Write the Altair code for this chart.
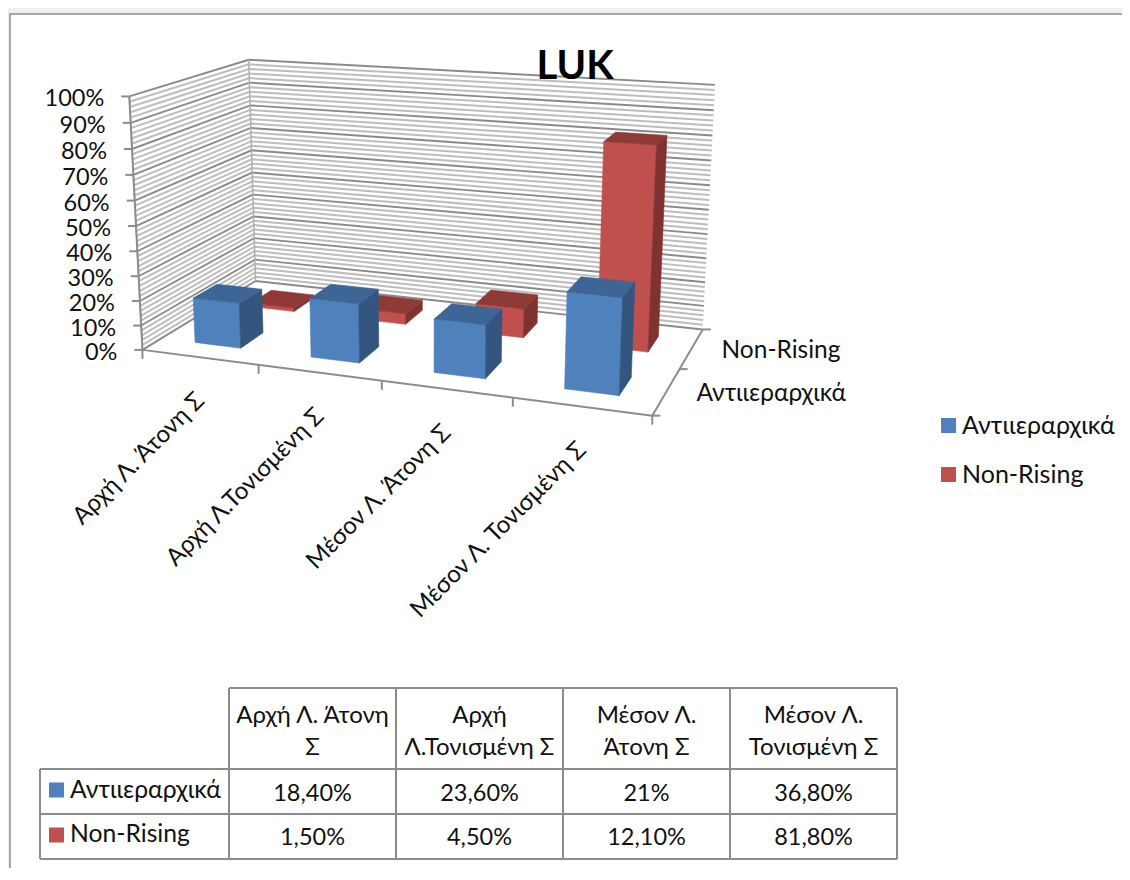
import altair as alt
import numpy as np
import pandas as pd

# ---- data ----
categories = ["Αρχή Λ. Άτονη Σ", "Αρχή Λ.Τονισμένη Σ", "Μέσον Λ. Άτονη Σ", "Μέσον Λ. Τονισμένη Σ"]
headers = [["Αρχή Λ. Άτονη", "Σ"], ["Αρχή", "Λ.Τονισμένη Σ"], ["Μέσον Λ.", "Άτονη Σ"], ["Μέσον Λ.", "Τονισμένη Σ"]]
series = ["Αντιιεραρχικά", "Non-Rising"]
values_anti = [18.4, 23.6, 21.0, 36.8]
values_nonrising = [1.5, 4.5, 12.1, 81.8]
series_values = [values_anti, values_nonrising]
y_ticks = list(range(0, 101, 10))
minor_ticks = [t for t in range(0, 101, 2) if t % 10]

# ---- style ----
FONT = "Lato, 'Noto Sans', sans-serif"
FS = 25
FS_CAT = 24.2
FS_NUM = 23.5
GREY = "#8c8c8c"
front = ["#4f81bd", "#c0504d"]
side = ["#33557f", "#7f322f"]
top = ["#3d6596", "#8f3a37"]

# ---- oblique box of the 3-D chart: fitted perspective camera ----
box = [((0, 0, 0), (143, 350)), ((1, 0, 0), (652, 416)), ((0, 1, 0), (255, 281)),
       ((1, 1, 0), (703, 329)), ((0, 0, 1), (129, 96)), ((0, 1, 1), (249, 60)), ((1, 1, 1), (715, 85))]
A, b = [], []
for (u, v, h), (sx, sy) in box:
    A.append([1, u, v, h, 0, 0, 0, 0, -sx * u, -sx * v, -sx * h]); b.append(sx)
    A.append([0, 0, 0, 0, 1, u, v, h, -sy * u, -sy * v, -sy * h]); b.append(sy)
P = np.linalg.lstsq(np.array(A, float), np.array(b, float), rcond=None)[0]


def proj(u, v, h):
    w = 1 + P[8] * u + P[9] * v + P[10] * h
    return (P[0] + P[1] * u + P[2] * v + P[3] * h) / w, (P[4] + P[5] * u + P[6] * v + P[7] * h) / w


W, H = 1114, 860
X = alt.Scale(domain=[8, 8 + W], range=[0, W], nice=False, zero=False)
Y = alt.Scale(domain=[8, 8 + H], range=[0, H], nice=False, zero=False)
xe = lambda f="x": alt.X(f"{f}:Q", scale=X, axis=None)
ye = lambda f="y": alt.Y(f"{f}:Q", scale=Y, axis=None)


def lines(segs, stroke, width):
    rows = []
    for i, seg in enumerate(segs):
        for j, (x, y) in enumerate(seg):
            rows.append({"g": i, "o": j, "x": float(x), "y": float(y)})
    return alt.Chart(pd.DataFrame(rows)).mark_line(stroke=stroke, strokeWidth=width, clip=False).encode(
        x=xe(), y=ye(), detail="g:N", order="o:Q")


def texts(rows, size=FS, **kw):
    return alt.Chart(pd.DataFrame(rows)).mark_text(font=FONT, fontSize=size, color="#111111", **kw).encode(
        x=xe(), y=ye(), text="t:N")


def wall(h):
    return [proj(0, 0, h), proj(0, 1, h), proj(1, 1, h)]


layers = []
# frame
layers.append(alt.Chart(pd.DataFrame([{"x": 10, "x2": 1160, "y": 14, "y2": 920}])).mark_rect(
    fill="white", stroke=GREY, strokeWidth=1.5).encode(x=xe(), x2="x2:Q", y=ye(), y2="y2:Q"))
# walls
layers.append(lines([wall(t / 100) for t in minor_ticks], "#bdbdbd", 2))
layers.append(lines([wall(t / 100) for t in y_ticks], "#8a8a8a", 1.9))
layers.append(lines([[proj(0, 1, 0), proj(0, 1, 1)], [proj(0, 0, 0), proj(0, 0, 1)]], "#b0b0b0", 1.5))
# axes
segs = [[proj(0, 0, 0), proj(0, 0, 1)], [proj(0, 0, 0), proj(1, 0, 0)], [proj(1, 0, 0), proj(1, 1, 0)]]
for t in y_ticks:
    x, y = proj(0, 0, t / 100)
    segs.append([(x - 8, y), (x, y)])
for i in range(5):
    x, y = proj(i / 4, 0, 0)
    segs.append([(x, y), (x, y + 9)])
for d in (0, .5, 1):
    x, y = proj(1, d, 0)
    segs.append([(x, y), (x + 8, y)])
layers.append(lines(segs, GREY, 2))

# bars: rear row first, each row left to right
faces = []
BW, BD = 0.1, 0.2
for s in (1, 0):
    v0 = s / 2 + 0.15
    v1 = v0 + BD
    for c in range(4):
        u0 = c / 4 + 0.075
        u1 = u0 + BW
        h = series_values[s][c] / 100
        for name, colr, pts in (
            ("f", front[s], [(u0, v0, 0), (u1, v0, 0), (u1, v0, h), (u0, v0, h)]),
            ("s", side[s], [(u1, v0, 0), (u1, v1, 0), (u1, v1, h), (u1, v0, h)]),
            ("t", top[s], [(u0, v0, h), (u1, v0, h), (u1, v1, h), (u0, v1, h)]),
        ):
            for j, p in enumerate(pts + pts[:1]):
                x, y = proj(*p)
                faces.append({"g": f"{s}{c}{name}", "o": j, "x": x, "y": y, "c": colr})
layers.append(alt.Chart(pd.DataFrame(faces)).mark_line(strokeWidth=0.6).encode(
    x=xe(), y=ye(), detail="g:N", order="o:Q",
    stroke=alt.Stroke("c:N", scale=None), fill=alt.Fill("c:N", scale=None)))

# table grid
xs = [229, 396, 563, 730, 897]
ys = [688, 769, 814, 859]
tab = [[(x, ys[0]), (x, ys[-1])] for x in xs] + [[(40, ys[1]), (40, ys[-1])]]
tab += [[(xs[0], ys[0]), (xs[-1], ys[0])]] + [[(40, y), (xs[-1], y)] for y in ys[1:]]
layers.append(lines(tab, GREY, 2))

# y axis labels
layers.append(texts([{"x": proj(0, 0, t / 100)[0] - 25, "y": proj(0, 0, t / 100)[1] + 3, "t": f"{t}%"} for t in y_ticks],
                    size=FS_NUM, align="right", baseline="middle"))
# category labels
layers.append(texts([{"x": proj((i + .5) / 4, 0, 0)[0] + 1, "y": proj((i + .5) / 4, 0, 0)[1] + 40, "t": c}
                     for i, c in enumerate(categories)], size=FS_CAT, align="right", baseline="middle", angle=315))
# depth labels
layers.append(texts([{"x": proj(1, (i + .5) / 2, 0)[0] + 30, "y": proj(1, (i + .5) / 2, 0)[1] + 2.5, "t": s}
                     for i, s in enumerate(series)], size=24.5, align="left", baseline="middle"))
# title
layers.append(alt.Chart(pd.DataFrame([{"x": 575, "y": 67, "t": "LUK"}])).mark_text(
    font=FONT, fontSize=40, fontWeight="bold", color="#000000", baseline="middle").encode(x=xe(), y=ye(), text="t:N"))
# table text
cx = [(xs[i] + xs[i + 1]) / 2 for i in range(4)]
rows = []
for i, hd in enumerate(headers):
    rows += [{"x": cx[i], "y": 716 + 32 * k, "t": t} for k, t in enumerate(hd)]
layers.append(texts(rows, size=24, align="center", baseline="middle"))


def pct(v):
    return (f"{v:.0f}%" if v == int(v) else f"{v:.2f}%").replace(".", ",")


rows = []
for r, vals in enumerate(series_values):
    rows += [{"x": cx[i], "y": 794 + 44 * r, "t": pct(v)} for i, v in enumerate(vals)]
layers.append(texts(rows, size=FS_NUM, align="center", baseline="middle"))
layers.append(texts([{"x": 70, "y": 791 + 44 * r, "t": s} for r, s in enumerate(series)], size=24.7, align="left", baseline="middle"))

# table keys + legend
keys = pd.DataFrame({"x": [56.5, 56.5], "y": [790, 835], "s": series})
layers.append(alt.Chart(keys).mark_square(size=225, opacity=1).encode(
    x=xe(), y=ye(),
    color=alt.Color("s:N", scale=alt.Scale(domain=series, range=front), legend=alt.Legend(
        title=None, orient="none", legendX=928, legendY=405, symbolType="square", symbolSize=225,
        symbolStrokeWidth=0, symbolOpacity=1, labelFont=FONT, labelFontSize=FS, labelColor="#111111",
        rowPadding=23, labelOffset=1, padding=0))))

chart = alt.layer(*layers).properties(
    width=W, height=H, background="#f0f0f0", padding=0,
    autosize=alt.AutoSizeParams(type="none")
).configure_view(stroke=None)
chart.save("out.html", embed_options={"renderer": "svg", "actions": False})
